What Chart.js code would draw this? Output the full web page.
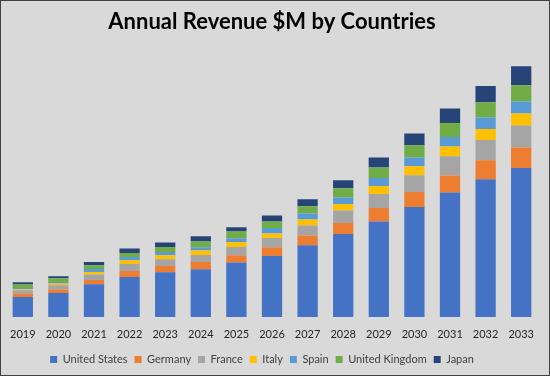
<!DOCTYPE html>
<html>
<head>
<meta charset="utf-8">
<script src="https://cdn.jsdelivr.net/npm/chart.js@4/dist/chart.umd.min.js"></script>
<style>
  html, body { margin: 0; padding: 0; background: #d9d9d9; }
  #wrap { width: 550px; height: 376px; box-sizing: border-box; border: 1px solid #404040; background: #d9d9d9; position: relative; }
  #box { position: absolute; left: 0; top: 0; width: 548px; height: 374px; }
</style>
</head>
<body>
<div id="wrap"><div id="box"><canvas id="c"></canvas></div></div>
<script>
const years = ["2019","2020","2021","2022","2023","2024","2025","2026","2027","2028","2029","2030","2031","2032","2033"];
const unitedStates  = [20, 24, 32.7, 40, 44.7, 47.7, 54.4, 61, 71.7, 83, 95.4, 110, 124.4, 137.7, 149];
const germany       = [3.4, 3.4, 4.3, 6, 6.3, 7.3, 7.3, 8.7, 9.7, 11, 13.6, 15, 17, 19, 20.4];
const france        = [3.3, 4.3, 5.4, 7, 6.7, 7, 8.3, 9.3, 10, 12.4, 14, 16.7, 19.3, 20.3, 22];
const italy         = [1, 1.7, 2.6, 3.7, 4, 4.4, 5, 4.4, 6, 6.6, 8, 9, 9.7, 11, 12];
const spain         = [1.3, 1.6, 3, 3.3, 3.3, 3.3, 3.7, 5.6, 6, 6.4, 8, 8.7, 9.6, 11.4, 12];
const unitedKingdom = [3.4, 3.7, 3.7, 4, 5, 5.7, 6.7, 6.4, 7.3, 9.3, 10.4, 12.3, 14, 15.3, 16.3];
const japan         = [2.3, 2, 3.3, 4.4, 4.4, 5.3, 4.3, 6, 7, 8, 10, 11.7, 14.4, 16.3, 19];

const series = [
  ["United States", unitedStates, "#4472C4"],
  ["Germany", germany, "#ED7D31"],
  ["France", france, "#A5A5A5"],
  ["Italy", italy, "#FFC000"],
  ["Spain", spain, "#5B9BD5"],
  ["United Kingdom", unitedKingdom, "#70AD47"],
  ["Japan", japan, "#264478"]
];

const legendShift = {
  id: "legendShift",
  afterLayout(chart) {
    const lg = chart.legend;
    if (lg) { lg.left -= 10; lg.right -= 10; }
  }
};

new Chart(document.getElementById("c"), {
  type: "bar",
  data: {
    labels: years,
    datasets: series.map(([label, data, color]) => ({
      label, data, backgroundColor: color, borderWidth: 0,
      categoryPercentage: 1, barPercentage: 0.57
    }))
  },
  plugins: [legendShift],
  options: {
    responsive: true,
    maintainAspectRatio: false,
    animation: false,
    layout: { padding: { left: 4, right: 10, top: 0, bottom: 0 } },
    plugins: {
      title: {
        display: true,
        text: "Annual Revenue $M by Countries",
        color: "#000000",
        font: { family: "Lato", size: 22, weight: "bold" },
        padding: { top: 8, bottom: 20 }
      },
      legend: {
        position: "bottom",
        labels: {
          boxWidth: 7, boxHeight: 7, padding: 7,
          color: "#404040",
          font: { family: "Lato", size: 11 }
        }
      },
      tooltip: { enabled: false }
    },
    scales: {
      x: {
        stacked: true,
        grid: { display: false },
        border: { display: false },
        ticks: { color: "#262626", font: { family: "Lato", size: 11 }, maxRotation: 0, autoSkip: false },
        afterFit: s => { s.height = 30; }
      },
      y: {
        stacked: true,
        display: false,
        min: 0,
        max: 261.6
      }
    }
  }
});
</script>
</body>
</html>
